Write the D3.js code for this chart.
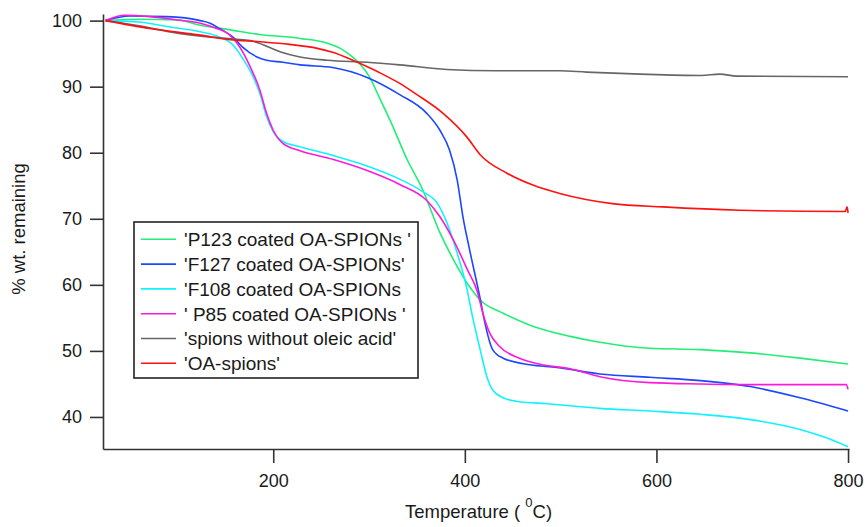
<!DOCTYPE html>
<html>
<head>
<meta charset="utf-8">
<script src="https://cdn.jsdelivr.net/npm/d3@7"></script>
<style>
  body { margin: 0; background: #fff; }
  svg text { font-family: "Liberation Sans", Arial, sans-serif; fill: #1a1a1a; }
</style>
</head>
<body>
<div class="chart"></div>
<script>
// [temperature, % wt remaining]
const p123 = [[25,100],[60,100.2],[100,100.1],[124,99.3],[155,98.6],[186,97.9],[228,97.3],[256,96.6],[270,95.8],[280,94.8],[290,93.5],[300,91.6],[310,88.6],[322,84.9],[340,78.9],[356,74.4],[374,67.9],[390,63.3],[405,59.7],[416,57.7],[440,55.7],[468,53.9],[510,52.2],[541,51.3],[593,50.4],[646,50.2],[698,49.7],[750,48.9],[800,48.0]]
const f127 = [[25,100],[50,100.7],[89,100.6],[124,100],[134,99.6],[144,98.8],[158,97.5],[168,96.0],[183,94.5],[193,94.0],[210,93.7],[228,93.3],[262,92.9],[298,91.4],[332,88.8],[360,86.0],[374,83.4],[384,80.4],[392,75.9],[398,70.3],[405,65.3],[416,57.9],[421,54.2],[429,50.2],[440,48.9],[468,47.9],[496,47.5],[541,46.5],[593,46.0],[646,45.5],[698,44.6],[750,42.9],[800,40.9]]
const f108 = [[25,100],[60,99.8],[89,99.1],[124,98.3],[144,97.5],[158,96.3],[168,94.3],[179,91.5],[186,89.0],[193,85.5],[200,83.2],[210,81.7],[228,80.9],[262,79.6],[298,78.0],[332,76.0],[356,74.1],[371,72.4],[381,69.5],[392,64.8],[402,59.5],[408,55.2],[416,50.2],[423,46.1],[429,44.1],[440,42.9],[457,42.3],[486,42.0],[510,41.7],[541,41.3],[593,40.9],[646,40.4],[698,39.6],[750,38.1],[778,36.8],[800,35.5]]
const p85 = [[25,100],[45,100.8],[71,100.6],[100,100.1],[124,99.6],[141,98.8],[152,98.1],[165,96.0],[176,93.0],[186,89.5],[193,86.0],[200,83.4],[210,81.4],[228,80.3],[262,79.0],[298,77.3],[332,75.2],[360,72.8],[374,70.3],[388,66.8],[403,62.2],[413,59.0],[419,55.6],[426,52.7],[436,50.7],[457,48.9],[481,47.9],[510,47.3],[541,46.1],[593,45.2],[646,45.0],[698,44.9],[798,44.9],[800,44.2]]
const noOleic = [[25,100],[60,99.2],[100,98.1],[135,97.5],[160,97.2],[176,97.0],[190,96.3],[207,95.3],[228,94.5],[256,94.0],[298,93.7],[332,93.3],[381,92.6],[433,92.4],[499,92.4],[527,92.2],[583,91.9],[647,91.7],[666,91.9],[684,91.6],[800,91.5]]
const oaSpions = [[25,100],[71,98.8],[124,97.8],[155,97.1],[186,96.8],[217,96.4],[246,95.8],[262,95.2],[283,94.0],[300,92.9],[314,91.9],[332,90.5],[350,88.8],[377,86.0],[402,82.4],[416,79.7],[444,76.9],[471,75.1],[500,73.8],[554,72.3],[607,71.8],[687,71.3],[797,71.1],[799,71.8],[800,70.9]]

const seriesNames = ["'P123 coated OA-SPIONs '", "'F127 coated OA-SPIONs'", "'F108 coated OA-SPIONs", "' P85 coated OA-SPIONs '", "'spions without oleic acid'", "'OA-spions'"]
const seriesData = [p123, f127, f108, p85, noOleic, oaSpions]
const seriesColors = ['#22ee77', '#1a48ff', '#11f2ff', '#ff1ad9', '#666666', '#ff1111']

const xTicks = [200, 400, 600, 800]
const yTicks = [40, 50, 60, 70, 80, 90, 100]

const width = 867
const height = 527

const svg = d3.select('.chart')
    .append('svg')
    .attr('width', width)
    .attr('height', height)

const x = d3.scaleLinear()
    .domain([22.3, 801])
    .range([103, 849])

const y = d3.scaleLinear()
    .domain([35.15, 101])
    .range([449, 14])

const line = d3.line()
    .x(d => x(d[0]))
    .y(d => y(d[1]))
    .curve(d3.curveMonotoneX)

svg.selectAll('path.curve')
    .data(seriesData)
    .enter()
    .append('path')
    .attr('class', 'curve')
    .attr('d', line)
    .attr('fill', 'none')
    .attr('stroke', (d, i) => seriesColors[i])
    .attr('stroke-width', 1.6)

const xAxis = svg.append('g')
    .attr('transform', 'translate(0,449)')
    .call(d3.axisBottom(x).tickValues(xTicks).tickSize(14).tickPadding(11).tickSizeOuter(0))

const yAxis = svg.append('g')
    .attr('transform', 'translate(103,0)')
    .call(d3.axisLeft(y).tickValues(yTicks).tickSize(13).tickPadding(8).tickSizeOuter(0))

svg.selectAll('.domain, .tick line')
    .attr('stroke', '#333')
    .attr('stroke-width', 1.6)

svg.selectAll('.tick text')
    .attr('font-size', '18px')
    .attr('font-family', '"Liberation Sans", Arial, sans-serif')
    .attr('fill', '#1a1a1a')

// axis titles
svg.append('text')
    .attr('transform', 'translate(25,229) rotate(-90)')
    .attr('text-anchor', 'middle')
    .attr('font-size', '18.5px')
    .text('% wt. remaining')

const xTitle = svg.append('text')
    .attr('x', 405)
    .attr('y', 518)
    .attr('font-size', '18.5px')
xTitle.append('tspan').text('Temperature ( ')
xTitle.append('tspan').attr('font-size', '13px').attr('dy', -11).text('0')
xTitle.append('tspan').attr('dy', 11).text('C)')

// legend
const legend = svg.append('g')

legend.append('rect')
    .attr('x', 134)
    .attr('y', 222)
    .attr('width', 284)
    .attr('height', 156)
    .attr('fill', '#fff')
    .attr('stroke', '#222')
    .attr('stroke-width', 1.6)

const rows = legend.selectAll('g.row')
    .data(seriesNames)
    .enter()
    .append('g')
    .attr('class', 'row')
    .attr('transform', (d, i) => `translate(0,${239.3 + i * 24.8})`)

rows.append('line')
    .attr('x1', 141)
    .attr('x2', 176)
    .attr('stroke', (d, i) => seriesColors[i])
    .attr('stroke-width', 1.6)

rows.append('text')
    .attr('x', 184)
    .attr('dy', '0.36em')
    .attr('font-size', '19px')
    .text(d => d)
</script>
</body>
</html>
